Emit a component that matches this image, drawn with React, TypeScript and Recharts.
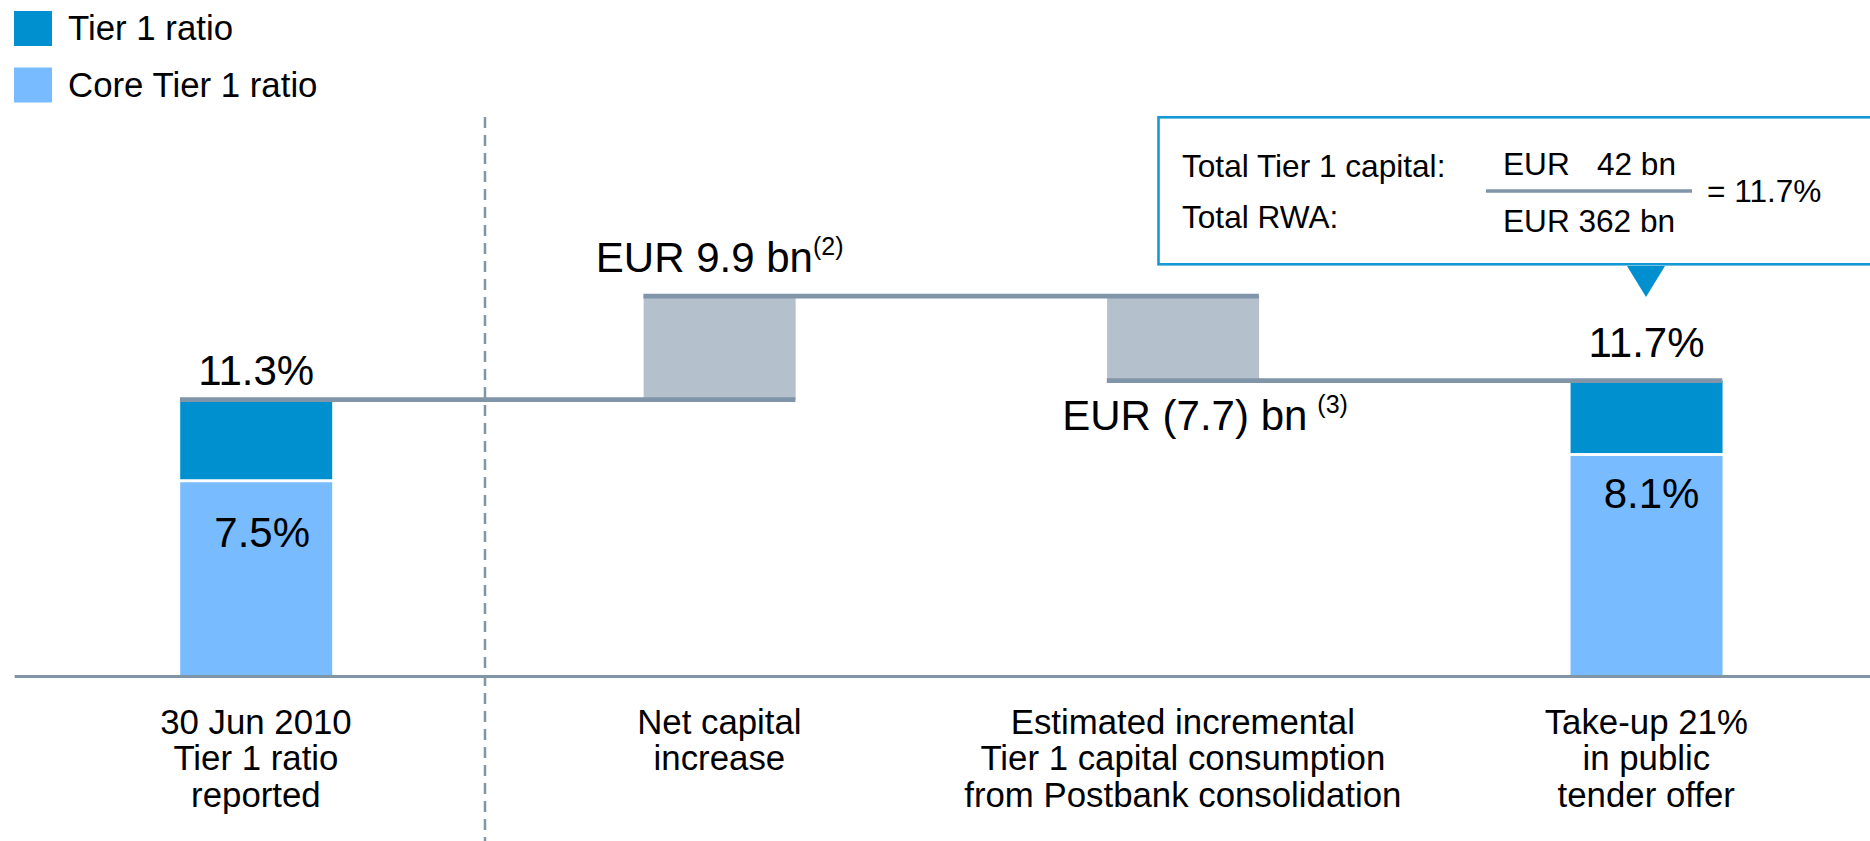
import { ComposedChart, Bar, Line, XAxis, YAxis, LabelList, Legend } from 'recharts';

// categories along the bottom
const categories = [
  '30 Jun 2010\nTier 1 ratio\nreported',
  'Net capital\nincrease',
  'Estimated incremental\nTier 1 capital consumption\nfrom Postbank consolidation',
  'Take-up 21%\nin public\ntender offer',
];

// heights as drawn on the slide, in ratio points (the slide is not exactly to scale)
const coreTier1 = [7.93, 0, 0, 9.0];
const tier1OnTop = [3.37, 0, 0, 3.08];
const bridgeFrom = [0, 11.3, 12.08, 0];
const bridgeSize = [0, 4.23, 3.45, 0];
const levelAfter = [11.3, 15.53, 12.08, 12.08];

// printed labels
const totalLabels = ['11.3%', '', '', '11.7%'];
const coreLabels = ['7.5%', '', '', '8.1%'];
const bridgeLabels = ['', 'EUR 9.9 bn', 'EUR (7.7) bn', ''];
const bridgeNotes = ['', '(2)', '(3)', ''];
const legendNames = ['Tier 1 ratio', 'Core Tier 1 ratio'];

const DARK = '#0090D0';
const LIGHT = '#78BBFF';
const GREY = '#B4C0CC';
const LINE = '#8195A9';
const BOX = '#1599D6';
const FONT = '"Liberation Sans", Arial, Helvetica, sans-serif';

// layout
const W = 1878;
const H = 841;
const M = { top: 186.6, right: 0, bottom: 0, left: 14.7 };
const PAD = { left: 9.5, right: 0 };
const AXIS_H = 164.5;
const PLOT_BOTTOM = H - M.bottom - AXIS_H;
const BAR = 152;
const STEP = (W - M.left - M.right - PAD.left - PAD.right) / categories.length;

// label nudges
const TOTAL_GAP = [14.7, 0, 0, 23.6];
const CORE_DY = [64.8, 0, 0, 52];
const CORE_DX = [6, 0, 0, 5];
const BRIDGE_DX = [0, 0, 22, 0];
const NOTE_DX = [0, 0, 10, 0];

const rows = categories.map((name, i) => ({
  name,
  base: bridgeFrom[i],
  delta: bridgeSize[i],
  core: coreTier1[i],
  tier1: tier1OnTop[i],
  level: levelAfter[i],
  totalLabel: totalLabels[i],
  coreLabel: coreLabels[i],
  bridgeLabel: bridgeLabels[i],
}));

const Tier1Shape = (p: any) => {
  if (!p.height || p.height <= 0) return <g />;
  return <rect x={p.x} y={p.y} width={p.width} height={Math.max(0, p.height - 3)} fill={DARK} />;
};

const LevelDot = (p: any) => {
  const { cx, cy, index } = p;
  if (index >= categories.length - 1 || cx == null) return <g key={`lv-${index}`} />;
  return (
    <line key={`lv-${index}`} x1={cx - BAR / 2} x2={cx + STEP + BAR / 2} y1={cy} y2={cy}
      stroke={LINE} strokeWidth={4.7} />
  );
};

const TotalLabel = (p: any) => {
  const v = p.value;
  if (!v) return null;
  const i = totalLabels.indexOf(v);
  const vb = p.viewBox;
  return (
    <text x={vb.x + vb.width / 2} y={vb.y - TOTAL_GAP[i]} textAnchor="middle" fontSize={42} fill="#000">
      {v}
    </text>
  );
};

const CoreLabel = (p: any) => {
  const v = p.value;
  if (!v) return null;
  const i = coreLabels.indexOf(v);
  const vb = p.viewBox;
  return (
    <text x={vb.x + vb.width / 2 + CORE_DX[i]} y={vb.y + CORE_DY[i]} textAnchor="middle" fontSize={42} fill="#000">
      {v}
    </text>
  );
};

const BridgeLabel = (p: any) => {
  const v = p.value;
  if (!v) return null;
  const i = bridgeLabels.indexOf(v);
  const vb = p.viewBox;
  const up = levelAfter[i] > bridgeFrom[i];
  const y = up ? vb.y - 24 : vb.y + vb.height + 49;
  return (
    <text x={vb.x + vb.width / 2 + BRIDGE_DX[i]} y={y} textAnchor="middle" fontSize={42} fill="#000">
      {v}
      <tspan dx={NOTE_DX[i]} dy={-17} fontSize={25}>{bridgeNotes[i]}</tspan>
    </text>
  );
};

const CatTick = (p: any) => {
  const lines = String(p.payload.value).split('\n');
  return (
    <text x={p.x} y={PLOT_BOTTOM + 57} textAnchor="middle" fontSize={34.8} fill="#000">
      {lines.map((l, k) => (
        <tspan key={k} x={p.x} dy={k === 0 ? 0 : 36.5}>{l}</tspan>
      ))}
    </text>
  );
};

const LegendBox = () => (
  <svg width={360} height={110}>
    {legendNames.map((n, k) => (
      <g key={n}>
        <rect x={14} y={11 + k * 56.5} width={38} height={35} fill={k === 0 ? DARK : LIGHT} />
        <text x={68} y={40 + k * 56.7} fontSize={34.8} fill="#000" fontFamily={FONT}>{n}</text>
      </g>
    ))}
  </svg>
);

export default function App() {
  return (
    <div style={{ position: 'absolute', left: 0, top: 0, width: 1870, height: 841, overflow: 'hidden', background: '#fff', fontFamily: FONT }}>
      <ComposedChart width={W} height={H} data={rows} margin={M}>
        <XAxis dataKey="name" height={AXIS_H} padding={PAD} interval={0} tickLine={false} tickSize={0} tickMargin={0}
          axisLine={{ stroke: LINE, strokeWidth: 3 }} tick={<CatTick />} />
        <YAxis hide domain={[0, 20]} />
        <Legend layout="vertical" align="center" verticalAlign="middle"
          wrapperStyle={{ left: 0, top: 0, width: 360, height: 110 }} content={LegendBox} />
        <Bar dataKey="base" stackId="w" fill="transparent" barSize={BAR} legendType="none" isAnimationActive={false} />
        <Bar dataKey="delta" stackId="w" fill={GREY} barSize={BAR} legendType="none" isAnimationActive={false}>
          <LabelList dataKey="bridgeLabel" content={BridgeLabel} />
        </Bar>
        <Bar dataKey="core" name="Core Tier 1 ratio" stackId="w" fill={LIGHT} barSize={BAR} isAnimationActive={false}>
          <LabelList dataKey="coreLabel" content={CoreLabel} />
        </Bar>
        <Bar dataKey="tier1" name="Tier 1 ratio" stackId="w" fill={DARK} barSize={BAR} shape={Tier1Shape} isAnimationActive={false}>
          <LabelList dataKey="totalLabel" content={TotalLabel} />
        </Bar>
        <Line dataKey="level" stroke="none" dot={LevelDot} activeDot={false} legendType="none" isAnimationActive={false} />
      </ComposedChart>

      <svg width={1870} height={841} style={{ position: 'absolute', left: 0, top: 0, pointerEvents: 'none' }}>
        <line x1={485} x2={485} y1={117} y2={841} stroke={LINE} strokeWidth={2.5} strokeDasharray="11 7" />
        <rect x={1158.5} y={117.3} width={760} height={147} fill="#fff" stroke={BOX} strokeWidth={2.6} />
        <polygon points="1627,266 1665,266 1646,297" fill={DARK} />
        <g fontSize={31.6} fill="#000">
          <text x={1182} y={177}>Total Tier 1 capital:</text>
          <text x={1182} y={228}>Total RWA:</text>
          <text x={1503} y={175}>EUR</text>
          <text x={1676} y={175} textAnchor="end">42 bn</text>
          <text x={1503} y={232}>EUR 362 bn</text>
          <text x={1707} y={202}>= 11.7%</text>
        </g>
        <line x1={1486} x2={1692} y1={191} y2={191} stroke={LINE} strokeWidth={3.3} />
      </svg>
    </div>
  );
}
